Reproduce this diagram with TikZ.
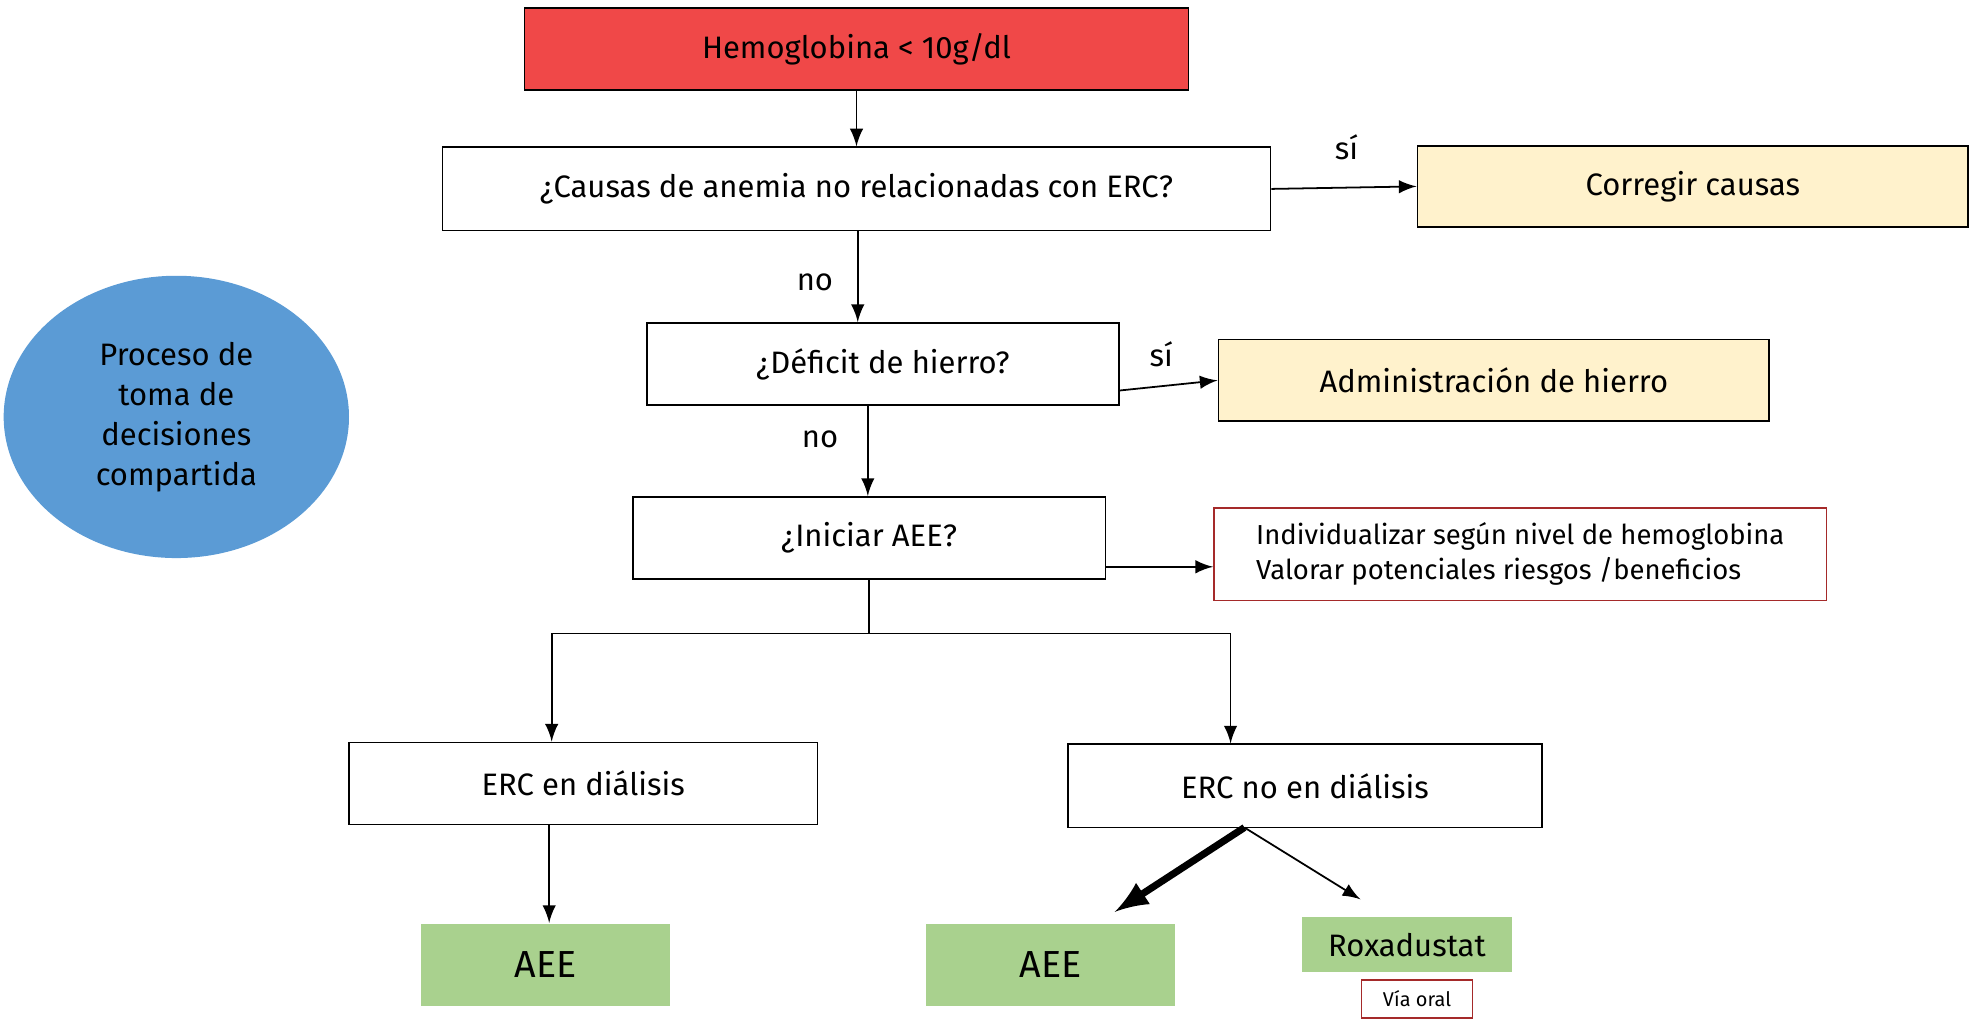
\documentclass[tikz,border=0pt]{standalone}
\usepackage{fontspec}
\setmainfont{Fira Sans}
\usetikzlibrary{shapes.geometric}
\definecolor{hbred}{HTML}{F04848}
\definecolor{cream}{HTML}{FFF2CC}
\definecolor{leaf}{HTML}{A9D18E}
\definecolor{sky}{HTML}{5B9BD5}
\definecolor{wine}{HTML}{A52A2A}
\begin{document}
\begin{tikzpicture}[x=0.01cm,y=-0.01cm,
    box/.style={draw=black,thin,minimum height=0.65cm,font=\fontsize{7}{8}\selectfont},
    arr/.style={->,>=latex,thin}]
    \useasboundingbox (0,0) rectangle (1568,816);
    % top
    \node [box,fill=hbred,minimum width=5.27cm] (hb) at (680,39) {Hemoglobina < 10g/dl};
    \node [box,minimum width=6.57cm,minimum height=0.66cm] (causas) at (680,150) {¿Causas de anemia no relacionadas con ERC?};
    \node [box,fill=cream,minimum width=4.37cm,minimum height=0.64cm] (corregir) at (1344,148) {Corregir causas};
    % hierro
    \node [box,minimum width=3.75cm] (deficit) at (701,289) {¿Déficit de hierro?};
    \node [box,fill=cream,minimum width=4.37cm] (admin) at (1186,302) {Administración de hierro};
    % AEE
    \node [box,minimum width=3.75cm] (iniciar) at (690,427) {¿Iniciar AEE?};
    \node [draw=wine,thin,minimum width=4.86cm,minimum height=0.73cm,align=left,
        font=\fontsize{6.2}{8}\selectfont] (indiv) at (1207,440)
        {Individualizar según nivel de hemoglobina\\Valorar potenciales riesgos /beneficios};
    % ERC
    \node [box,minimum width=3.72cm] (ercd) at (463,622) {ERC en diálisis};
    \node [box,minimum width=3.76cm,minimum height=0.66cm] (ercnd) at (1036,624) {ERC no en diálisis};
    % tratamientos
    \node [box,draw=none,fill=leaf,minimum width=1.97cm,font=\fontsize{8.5}{10}\selectfont] (aeea) at (433,766) {AEE};
    \node [box,draw=none,fill=leaf,minimum width=1.98cm,font=\fontsize{8.5}{10}\selectfont] (aeeb) at (834,766) {AEE};
    \node [box,draw=none,fill=leaf,minimum width=1.66cm,minimum height=0.44cm] (rox) at (1117,750) {Roxadustat};
    \node [draw=wine,thin,minimum width=0.88cm,minimum height=0.3cm,inner sep=1pt,
        font=\fontsize{4.5}{5}\selectfont] (via) at (1125,793) {Vía oral};
    % ellipse
    \node [ellipse,fill=sky,minimum width=2.74cm,minimum height=2.24cm,align=center,
        font=\fontsize{7}{9}\selectfont] (proceso) at (140,331) {Proceso de\\toma de\\decisiones\\compartida};
    % arrows
    \draw [arr] (hb) -- (causas);
    \draw [arr] (causas.east) -- (corregir.west);
    \node (si1) at (1069,117) {\fontsize{7}{8}\selectfont sí};
    \draw [arr] (causas.south -| 681,0) -- (deficit.north -| 681,0);
    \node (no1) at (647,224) {\fontsize{7}{8}\selectfont no};
    \draw [arr] (deficit.east |- 0,310) -- (admin.west);
    \node (si2) at (922,281) {\fontsize{7}{8}\selectfont sí};
    \draw [arr] (deficit.south -| 689,0) -- (iniciar.north -| 689,0);
    \node (no2) at (651,349) {\fontsize{7}{8}\selectfont no};
    \draw [arr] (iniciar.east |- 0,450) -- (indiv.west |- 0,450);
    % split
    \coordinate (split) at (690,503);
    \draw [thin] (iniciar.south) -- (split);
    \draw [arr] (split) -| (ercd.north -| 438,0);
    \draw [arr] (split) -| (ercnd.north -| 977,0);
    \draw [arr] (ercd.south -| 436,0) -- (aeea.north -| 436,0);
    \coordinate (fork) at (988,657);
    \draw [->,>=latex,line width=1.6pt] (fork) -- (885,724);
    \draw [arr] (fork) -- (1080,714);
\end{tikzpicture}
\end{document}
